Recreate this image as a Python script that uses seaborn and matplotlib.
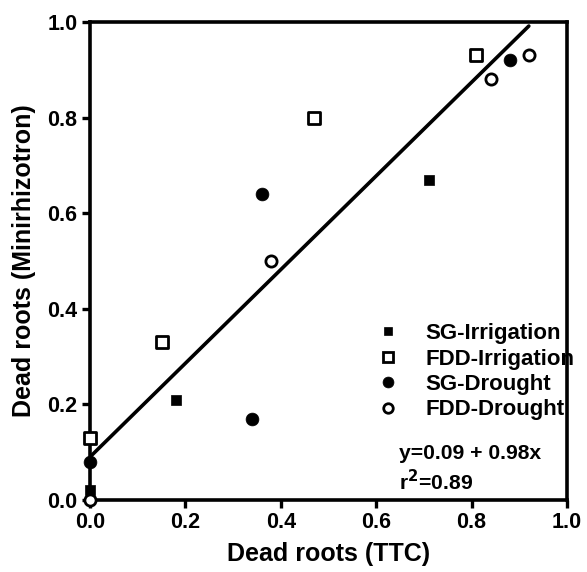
import numpy as np
import pandas as pd
import matplotlib.pyplot as plt
import seaborn as sns

groups = ['SG-Irrigation', 'FDD-Irrigation', 'SG-Drought', 'FDD-Drought']
ttc = {
    'SG-Irrigation': [0.0, 0.18, 0.71],
    'FDD-Irrigation': [0.0, 0.15, 0.47, 0.81],
    'SG-Drought': [0.0, 0.34, 0.36, 0.88],
    'FDD-Drought': [0.0, 0.38, 0.84, 0.92],
}
minirhizotron = {
    'SG-Irrigation': [0.02, 0.21, 0.67],
    'FDD-Irrigation': [0.13, 0.33, 0.80, 0.93],
    'SG-Drought': [0.08, 0.17, 0.64, 0.92],
    'FDD-Drought': [0.00, 0.50, 0.88, 0.93],
}
intercept = 0.09
slope = 0.98
r2 = 0.89
fit_x = [0.0, 0.92]

rows = []
for g in groups:
    for x, y in zip(ttc[g], minirhizotron[g]):
        rows.append({'group': g, 'ttc': x, 'mini': y})
df = pd.DataFrame(rows)

sns.set_theme(style='ticks')
plt.rcParams['font.family'] = ['Liberation Sans', 'DejaVu Sans']
plt.rcParams['font.weight'] = 'bold'
plt.rcParams['text.color'] = 'black'
plt.rcParams['axes.labelcolor'] = 'black'

fig = plt.figure(figsize=(5.87, 5.72), dpi=100)
ax = fig.add_axes([0.1533, 0.1259, 0.8126, 0.8356])

# regression line
line_df = pd.DataFrame({'x': fit_x, 'y': [intercept + slope * v for v in fit_x]})
sns.lineplot(data=line_df, x='x', y='y', color='black', linewidth=2.6, ax=ax)

styles = {
    'SG-Irrigation': dict(marker='s', s=45, color='black', edgecolor='black', linewidth=0.5),
    'FDD-Irrigation': dict(marker='s', s=75, color='white', edgecolor='black', linewidth=2.0),
    'SG-Drought': dict(marker='o', s=85, color='black', edgecolor='black', linewidth=0.5),
    'FDD-Drought': dict(marker='o', s=65, color='white', edgecolor='black', linewidth=2.0),
}
handles = []
for g in groups:
    sub = df[df['group'] == g]
    sns.scatterplot(data=sub, x='ttc', y='mini', ax=ax, clip_on=False, zorder=5, **styles[g])
    st = styles[g]
    handles.append(plt.Line2D([], [], linestyle='none', marker=st['marker'],
                              markersize=np.sqrt(st['s']) * 0.85, markerfacecolor=st['color'],
                              markeredgecolor='black', markeredgewidth=st['linewidth'], label=g))

ax.set_xlim(0, 1.0)
ax.set_ylim(0, 1.0)
ax.set_xticks(np.arange(0, 1.01, 0.2))
ax.set_yticks(np.arange(0, 1.01, 0.2))
ax.xaxis.set_major_formatter(plt.FormatStrFormatter('%.1f'))
ax.yaxis.set_major_formatter(plt.FormatStrFormatter('%.1f'))
ax.tick_params(axis='both', labelsize=15.5, width=2.4, length=6, direction='out',
               colors='black', pad=3)
for lab in ax.get_xticklabels() + ax.get_yticklabels():
    lab.set_fontweight('bold')
for sp in ax.spines.values():
    sp.set_linewidth(2.6)
    sp.set_color('black')

ax.set_xlabel('Dead roots (TTC)', fontsize=18, fontweight='bold', labelpad=6, color='black')
ax.set_ylabel('Dead roots (Minirhizotron)', fontsize=18, fontweight='bold', color='black')
ax.yaxis.set_label_coords(-0.113, 0.5)

leg = ax.legend(handles=handles, loc='upper left', bbox_to_anchor=(0.606, 0.370),
                frameon=False, fontsize=16, handlelength=0.8, handletextpad=1.3,
                labelspacing=0.2, borderaxespad=0, borderpad=0)
for t in leg.get_texts():
    t.set_fontweight('bold')
    t.set_color('black')

ax.text(0.648, 0.098, 'y=0.09 + 0.98x', fontsize=15.2, fontweight='bold', va='center', color='black')
ax.text(0.648, 0.038, 'r$^\\mathbf{2}$=0.89', fontsize=15.2, fontweight='bold', va='center', color='black')

fig.savefig('out.png', dpi=100)
